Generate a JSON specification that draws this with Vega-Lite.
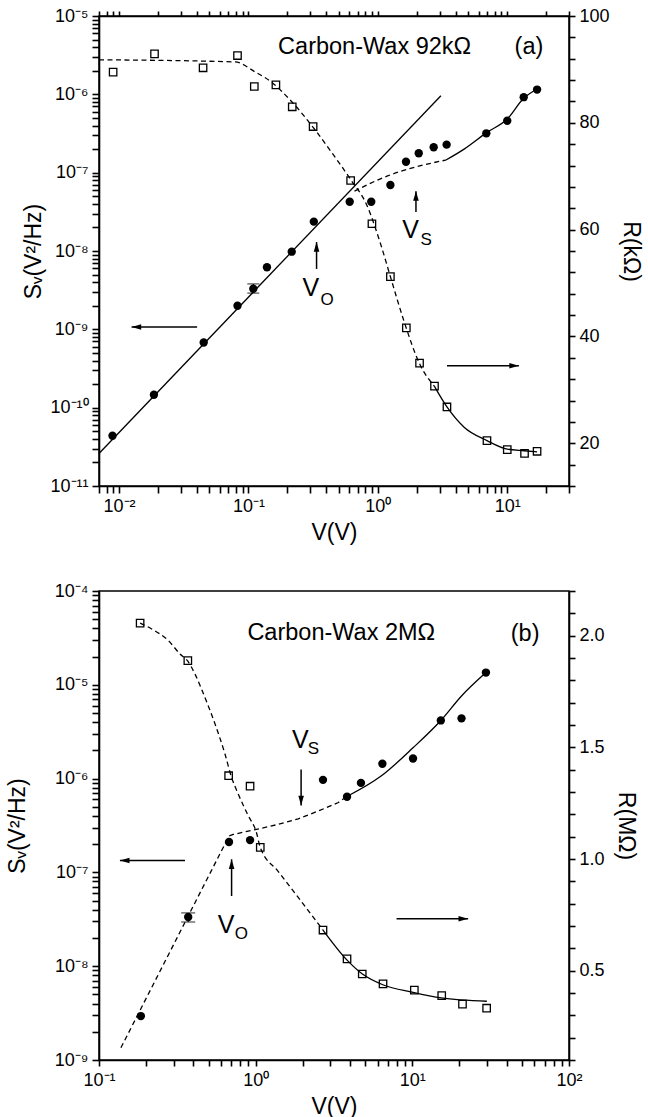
{
  "$schema": "https://vega.github.io/schema/vega-lite/v6.json",
  "background": "white",
  "padding": {"left": 5, "top": 6, "right": 5, "bottom": 5},
  "spacing": 36,
  "columns": 1,
  "align": "none",
  "config": {
    "font": "Liberation Sans",
    "view": {"stroke": "black", "strokeWidth": 1.5},
    "axis": {"domainColor": "black", "domainWidth": 1.6, "labelColor": "black", "titleColor": "black", "labelFont": "Liberation Sans", "titleFont": "Liberation Sans", "labelFontSize": 18, "titleFontSize": 23, "titleFontWeight": "normal", "grid": false, "labelOverlap": false, "labelFlush": false},
    "text": {"font": "Liberation Sans", "color": "black"}
  },
  "datasets": {
    "aS": [
      {"V": 0.0089, "S": 4.38e-11}, {"V": 0.0186, "S": 1.46e-10}, {"V": 0.0451, "S": 6.8e-10}, {"V": 0.0823, "S": 2.0e-9},
      {"V": 0.109, "S": 3.3e-9}, {"V": 0.139, "S": 6.2e-9}, {"V": 0.216, "S": 9.8e-9}, {"V": 0.32, "S": 2.37e-8},
      {"V": 0.606, "S": 4.26e-8}, {"V": 0.889, "S": 4.26e-8}, {"V": 1.25, "S": 6.95e-8}, {"V": 1.65, "S": 1.38e-7},
      {"V": 2.07, "S": 1.77e-7}, {"V": 2.7, "S": 2.11e-7}, {"V": 3.4, "S": 2.28e-7}, {"V": 6.89, "S": 3.18e-7},
      {"V": 10.0, "S": 4.6e-7}, {"V": 13.4, "S": 9.2e-7}, {"V": 17.0, "S": 1.15e-6}
    ],
    "aR": [
      {"V": 0.009, "R": 89.5}, {"V": 0.0188, "R": 92.9}, {"V": 0.0446, "R": 90.3}, {"V": 0.0823, "R": 92.6},
      {"V": 0.111, "R": 86.8}, {"V": 0.163, "R": 87.1}, {"V": 0.218, "R": 83.0}, {"V": 0.316, "R": 79.3},
      {"V": 0.616, "R": 69.2}, {"V": 0.9, "R": 61.1}, {"V": 1.25, "R": 51.2}, {"V": 1.66, "R": 41.6},
      {"V": 2.1, "R": 35.0}, {"V": 2.74, "R": 30.7}, {"V": 3.42, "R": 26.8}, {"V": 6.97, "R": 20.5},
      {"V": 10.0, "R": 18.8}, {"V": 13.6, "R": 18.1}, {"V": 17.0, "R": 18.5}
    ],
    "aL": [
      {"V": 0.007, "S": 2.6e-11, "seg": "pl"}, {"V": 3.07, "S": 9.6e-7, "seg": "pl"},
      {"V": 0.66, "S": 5.8e-8, "seg": "dash"}, {"V": 1.19, "S": 9.1e-8, "seg": "dash"}, {"V": 1.92, "S": 1.17e-7, "seg": "dash"}, {"V": 3.36, "S": 1.45e-7, "seg": "dash"},
      {"V": 3.36, "S": 1.45e-7, "seg": "solid"}, {"V": 4.64, "S": 2.0e-7, "seg": "solid"}, {"V": 6.97, "S": 3.27e-7, "seg": "solid"},
      {"V": 10.0, "S": 4.84e-7, "seg": "solid"}, {"V": 13.4, "S": 8.9e-7, "seg": "solid"}, {"V": 17.0, "S": 1.17e-6, "seg": "solid"}
    ],
    "aRL": [
      {"V": 0.007, "R": 91.8, "seg": "dash"}, {"V": 0.079, "R": 91.4, "seg": "dash"}, {"V": 0.113, "R": 89.5, "seg": "dash"},
      {"V": 0.151, "R": 87.6, "seg": "dash"}, {"V": 0.217, "R": 83.9, "seg": "dash"}, {"V": 0.315, "R": 79.2, "seg": "dash"},
      {"V": 0.438, "R": 74.5, "seg": "dash"}, {"V": 0.624, "R": 69.2, "seg": "dash"}, {"V": 0.814, "R": 64.8, "seg": "dash"},
      {"V": 1.06, "R": 57.0, "seg": "dash"}, {"V": 1.25, "R": 51.2, "seg": "dash"}, {"V": 1.6, "R": 42.7, "seg": "dash"},
      {"V": 2.09, "R": 35.0, "seg": "dash"}, {"V": 2.73, "R": 30.7, "seg": "dash"},
      {"V": 2.73, "R": 30.7, "seg": "solid"}, {"V": 3.42, "R": 26.8, "seg": "solid"}, {"V": 4.64, "R": 23.0, "seg": "solid"},
      {"V": 6.97, "R": 20.5, "seg": "solid"}, {"V": 10.0, "R": 18.9, "seg": "solid"}, {"V": 13.5, "R": 18.6, "seg": "solid"}, {"V": 17.0, "R": 18.4, "seg": "solid"}
    ],
    "aE": [{"V": 0.109, "S": 2.9e-9, "S2": 3.8e-9}],
    "aA": [
      {"V": 0.336, "S": 1.3e-8, "V2": 0.336, "S2": 5.9e-9, "dir": "up"},
      {"V": 1.97, "S": 5.8e-8, "V2": 1.97, "S2": 3.15e-8, "dir": "up"},
      {"V": 0.0125, "S": 1.07e-9, "V2": 0.0401, "S2": 1.07e-9, "dir": "left"},
      {"V": 12.3, "S": 3.43e-10, "V2": 3.42, "S2": 3.43e-10, "dir": "right"}
    ],
    "aT": [
      {"V": 0.944, "S": 4.0e-6, "t": "Carbon-Wax 92kΩ", "k": "title"},
      {"V": 14.7, "S": 4.0e-6, "t": "(a)", "k": "title"},
      {"V": 0.303, "S": 3.37e-9, "t": "V", "k": "big"},
      {"V": 0.405, "S": 2.37e-9, "t": "O", "k": "sub"},
      {"V": 1.79, "S": 1.83e-8, "t": "V", "k": "big"},
      {"V": 2.36, "S": 1.4e-8, "t": "S", "k": "sub"}
    ],
    "bS": [
      {"V": 0.185, "S": 2.94e-9}, {"V": 0.371, "S": 3.35e-8}, {"V": 0.676, "S": 2.11e-7}, {"V": 0.921, "S": 2.21e-7},
      {"V": 2.69, "S": 9.7e-7}, {"V": 3.83, "S": 6.4e-7}, {"V": 4.7, "S": 9.0e-7}, {"V": 6.44, "S": 1.44e-6},
      {"V": 10.1, "S": 1.64e-6}, {"V": 15.2, "S": 4.17e-6}, {"V": 20.6, "S": 4.39e-6}, {"V": 29.5, "S": 1.35e-5}
    ],
    "bR": [
      {"V": 0.183, "R": 2.056}, {"V": 0.369, "R": 1.888}, {"V": 0.672, "R": 1.373}, {"V": 0.921, "R": 1.326},
      {"V": 1.07, "R": 1.052}, {"V": 2.69, "R": 0.682}, {"V": 3.83, "R": 0.553}, {"V": 4.79, "R": 0.485},
      {"V": 6.5, "R": 0.441}, {"V": 10.3, "R": 0.413}, {"V": 15.4, "R": 0.388}, {"V": 20.9, "R": 0.35}, {"V": 29.8, "R": 0.332}
    ],
    "bL": [
      {"V": 0.138, "S": 1.35e-9, "seg": "dash"}, {"V": 0.676, "S": 2.44e-7, "seg": "dash"}, {"V": 0.719, "S": 2.54e-7, "seg": "dash"},
      {"V": 1.01, "S": 2.87e-7, "seg": "dash"}, {"V": 1.39, "S": 3.25e-7, "seg": "dash"}, {"V": 1.87, "S": 3.73e-7, "seg": "dash"},
      {"V": 2.51, "S": 4.51e-7, "seg": "dash"}, {"V": 3.37, "S": 5.56e-7, "seg": "dash"}, {"V": 3.8, "S": 6.41e-7, "seg": "dash"},
      {"V": 3.8, "S": 6.41e-7, "seg": "solid"}, {"V": 6.35, "S": 1.07e-6, "seg": "solid"}, {"V": 10.1, "S": 2.13e-6, "seg": "solid"},
      {"V": 15.2, "S": 4.16e-6, "seg": "solid"}, {"V": 20.6, "S": 7.6e-6, "seg": "solid"}, {"V": 29.5, "S": 1.35e-5, "seg": "solid"}
    ],
    "bRL": [
      {"V": 0.183, "R": 2.056, "seg": "dash"}, {"V": 0.217, "R": 2.03, "seg": "dash"}, {"V": 0.277, "R": 1.978, "seg": "dash"},
      {"V": 0.329, "R": 1.918, "seg": "dash"}, {"V": 0.367, "R": 1.888, "seg": "dash"}, {"V": 0.41, "R": 1.828, "seg": "dash"},
      {"V": 0.474, "R": 1.724, "seg": "dash"}, {"V": 0.55, "R": 1.605, "seg": "dash"}, {"V": 0.637, "R": 1.47, "seg": "dash"},
      {"V": 0.701, "R": 1.366, "seg": "dash"}, {"V": 0.774, "R": 1.291, "seg": "dash"}, {"V": 0.898, "R": 1.193, "seg": "dash"},
      {"V": 1.01, "R": 1.12, "seg": "dash"}, {"V": 1.07, "R": 1.052, "seg": "dash"}, {"V": 1.39, "R": 0.945, "seg": "dash"},
      {"V": 1.87, "R": 0.828, "seg": "dash"}, {"V": 2.69, "R": 0.682, "seg": "dash"},
      {"V": 2.69, "R": 0.682, "seg": "solid"}, {"V": 3.86, "R": 0.545, "seg": "solid"}, {"V": 4.8, "R": 0.485, "seg": "solid"},
      {"V": 6.48, "R": 0.437, "seg": "solid"}, {"V": 10.1, "R": 0.403, "seg": "solid"}, {"V": 15.3, "R": 0.378, "seg": "solid"}, {"V": 29.9, "R": 0.363, "seg": "solid"}
    ],
    "bE": [{"V": 0.371, "S": 2.96e-8, "S2": 3.7e-8}],
    "bA": [
      {"V": 1.95, "S": 5.18e-7, "V2": 1.95, "S2": 1.25e-6, "dir": "down"},
      {"V": 0.702, "S": 1.38e-7, "V2": 0.702, "S2": 5.6e-8, "dir": "up"},
      {"V": 0.136, "S": 1.34e-7, "V2": 0.354, "S2": 1.34e-7, "dir": "left"},
      {"V": 22.7, "S": 3.2e-8, "V2": 7.93, "S2": 3.2e-8, "dir": "right"}
    ],
    "bT": [
      {"V": 3.52, "S": 3.59e-5, "t": "Carbon-Wax 2MΩ", "k": "title"},
      {"V": 52.5, "S": 3.51e-5, "t": "(b)", "k": "title"},
      {"V": 1.93, "S": 2.6e-6, "t": "V", "k": "big"},
      {"V": 2.34, "S": 2.05e-6, "t": "S", "k": "sub"},
      {"V": 0.648, "S": 2.77e-8, "t": "V", "k": "big"},
      {"V": 0.81, "S": 2.19e-8, "t": "O", "k": "sub"}
    ]
  },
  "concat": [
    {
      "width": 470,
      "height": 470,
      "layer": [
        {
          "encoding": {
            "x": {"field": "V", "type": "quantitative", "scale": {"type": "log", "domain": [0.007, 30]},
              "axis": {"orient": "bottom", "title": "V(V)", "tickCount": 40, "titlePadding": 6, "labelPadding": 4, "tickColor": "black", "tickWidth": 1.6, "tickSize": 7,
                "labelExpr": "abs(log(datum.value)/LN10 - round(log(datum.value)/LN10)) > 0.01 ? '' : ['10⁻¹¹','10⁻¹⁰','10⁻⁹','10⁻⁸','10⁻⁷','10⁻⁶','10⁻⁵','10⁻⁴','10⁻³','10⁻²','10⁻¹','10⁰','10¹','10²'][round(log(datum.value)/LN10) + 11]"}},
            "y": {"field": "S", "type": "quantitative", "scale": {"type": "log", "domain": [1e-11, 1e-5]},
              "axis": {"orient": "left", "title": "Sᵥ(V²/Hz)", "tickCount": 60, "titlePadding": 4, "labelPadding": 4, "tickColor": "black", "tickWidth": 1.6, "tickSize": 7,
                "labelExpr": "abs(log(datum.value)/LN10 - round(log(datum.value)/LN10)) > 0.01 ? '' : ['10⁻¹¹','10⁻¹⁰','10⁻⁹','10⁻⁸','10⁻⁷','10⁻⁶','10⁻⁵','10⁻⁴','10⁻³','10⁻²','10⁻¹','10⁰','10¹','10²'][round(log(datum.value)/LN10) + 11]"}}
          },
          "layer": [
            {"data": {"name": "aL"}, "transform": [{"filter": "datum.seg == 'pl'"}], "mark": {"type": "line", "color": "black", "strokeWidth": 1.3}},
            {"data": {"name": "aL"}, "transform": [{"filter": "datum.seg == 'dash'"}], "mark": {"type": "line", "color": "black", "strokeWidth": 1.3, "strokeDash": [5, 3.5], "interpolate": "monotone"}},
            {"data": {"name": "aL"}, "transform": [{"filter": "datum.seg == 'solid'"}], "mark": {"type": "line", "color": "black", "strokeWidth": 1.3, "interpolate": "monotone"}},
            {"data": {"name": "aS"}, "mark": {"type": "point", "shape": "circle", "filled": true, "color": "black", "size": 70, "opacity": 1}},
            {"data": {"name": "aE"}, "mark": {"type": "errorbar", "color": "black", "thickness": 1.2, "ticks": {"size": 12, "thickness": 1.2, "color": "black"}}, "encoding": {"y2": {"field": "S2"}}},
            {"data": {"name": "aA"}, "mark": {"type": "rule", "color": "black", "strokeWidth": 1.5}, "encoding": {"x2": {"field": "V2"}, "y2": {"field": "S2"}}},
            {"data": {"name": "aA"}, "mark": {"type": "point", "filled": true, "color": "black", "size": 64, "opacity": 1},
              "encoding": {"shape": {"field": "dir", "type": "nominal", "legend": null, "scale": {"domain": ["up", "down", "left", "right"], "range": ["M0,0L0.7,2.4L-0.7,2.4Z", "M0,0L0.7,-2.4L-0.7,-2.4Z", "M0,0L2.4,0.7L2.4,-0.7Z", "M0,0L-2.4,0.7L-2.4,-0.7Z"]}}}},
            {"data": {"name": "aT"}, "transform": [{"filter": "datum.k == 'title'"}], "mark": {"type": "text", "fontSize": 23.5, "align": "center", "baseline": "middle"}, "encoding": {"text": {"field": "t"}}},
            {"data": {"name": "aT"}, "transform": [{"filter": "datum.k == 'big'"}], "mark": {"type": "text", "fontSize": 25, "align": "center", "baseline": "middle"}, "encoding": {"text": {"field": "t"}}},
            {"data": {"name": "aT"}, "transform": [{"filter": "datum.k == 'sub'"}], "mark": {"type": "text", "fontSize": 17, "align": "center", "baseline": "middle"}, "encoding": {"text": {"field": "t"}}}
          ]
        },
        {
          "encoding": {
            "x": {"field": "V", "type": "quantitative", "scale": {"type": "log", "domain": [0.007, 30]},
              "axis": {"orient": "top", "labels": false, "title": null, "tickCount": 40, "tickColor": "black", "tickWidth": 1.6, "tickSize": 5}},
            "y": {"field": "R", "type": "quantitative", "scale": {"type": "linear", "domain": [12, 100], "nice": false, "zero": false},
              "axis": {"orient": "right", "title": "R(kΩ)", "values": [12, 16, 20, 24, 28, 32, 36, 40, 44, 48, 52, 56, 60, 64, 68, 72, 76, 80, 84, 88, 92, 96, 100],
                "labelExpr": "datum.value % 20 == 0 ? datum.label : ''", "tickSize": 6, "tickColor": "black", "tickWidth": 1.6, "labelPadding": 4, "titlePadding": 9}}
          },
          "layer": [
            {"data": {"name": "aRL"}, "transform": [{"filter": "datum.seg == 'dash'"}], "mark": {"type": "line", "color": "black", "strokeWidth": 1.3, "strokeDash": [5, 3.5], "interpolate": "monotone"}},
            {"data": {"name": "aRL"}, "transform": [{"filter": "datum.seg == 'solid'"}], "mark": {"type": "line", "color": "black", "strokeWidth": 1.3, "interpolate": "monotone"}},
            {"data": {"name": "aR"}, "mark": {"type": "point", "shape": "square", "filled": false, "color": "black", "size": 55, "strokeWidth": 1.3, "opacity": 1}}
          ]
        }
      ],
      "resolve": {"scale": {"y": "independent"}, "axis": {"x": "independent"}}
    },
    {
      "width": 470,
      "height": 469,
      "layer": [
        {
          "encoding": {
            "x": {"field": "V", "type": "quantitative", "scale": {"type": "log", "domain": [0.1, 100]},
              "axis": {"orient": "bottom", "title": "V(V)", "tickCount": 40, "titlePadding": 6, "labelPadding": 5, "tickColor": "black", "tickWidth": 1.6, "tickSize": 6,
                "labelExpr": "abs(log(datum.value)/LN10 - round(log(datum.value)/LN10)) > 0.01 ? '' : ['10⁻¹¹','10⁻¹⁰','10⁻⁹','10⁻⁸','10⁻⁷','10⁻⁶','10⁻⁵','10⁻⁴','10⁻³','10⁻²','10⁻¹','10⁰','10¹','10²'][round(log(datum.value)/LN10) + 11]"}},
            "y": {"field": "S", "type": "quantitative", "scale": {"type": "log", "domain": [1e-9, 1e-4]},
              "axis": {"orient": "left", "title": "Sᵥ(V²/Hz)", "tickCount": 50, "titlePadding": 25, "labelPadding": 4, "tickColor": "black", "tickWidth": 1.6, "tickSize": 7,
                "labelExpr": "abs(log(datum.value)/LN10 - round(log(datum.value)/LN10)) > 0.01 ? '' : ['10⁻¹¹','10⁻¹⁰','10⁻⁹','10⁻⁸','10⁻⁷','10⁻⁶','10⁻⁵','10⁻⁴','10⁻³','10⁻²','10⁻¹','10⁰','10¹','10²'][round(log(datum.value)/LN10) + 11]"}}
          },
          "layer": [
            {"data": {"name": "bL"}, "transform": [{"filter": "datum.seg == 'dash'"}], "mark": {"type": "line", "color": "black", "strokeWidth": 1.3, "strokeDash": [5, 3.5]}},
            {"data": {"name": "bL"}, "transform": [{"filter": "datum.seg == 'solid'"}], "mark": {"type": "line", "color": "black", "strokeWidth": 1.3, "interpolate": "monotone"}},
            {"data": {"name": "bS"}, "mark": {"type": "point", "shape": "circle", "filled": true, "color": "black", "size": 70, "opacity": 1}},
            {"data": {"name": "bE"}, "mark": {"type": "errorbar", "color": "black", "thickness": 1.2, "ticks": {"size": 14, "thickness": 1.2, "color": "black"}}, "encoding": {"y2": {"field": "S2"}}},
            {"data": {"name": "bA"}, "mark": {"type": "rule", "color": "black", "strokeWidth": 1.5}, "encoding": {"x2": {"field": "V2"}, "y2": {"field": "S2"}}},
            {"data": {"name": "bA"}, "mark": {"type": "point", "filled": true, "color": "black", "size": 64, "opacity": 1},
              "encoding": {"shape": {"field": "dir", "type": "nominal", "legend": null, "scale": {"domain": ["up", "down", "left", "right"], "range": ["M0,0L0.7,2.4L-0.7,2.4Z", "M0,0L0.7,-2.4L-0.7,-2.4Z", "M0,0L2.4,0.7L2.4,-0.7Z", "M0,0L-2.4,0.7L-2.4,-0.7Z"]}}}},
            {"data": {"name": "bT"}, "transform": [{"filter": "datum.k == 'title'"}], "mark": {"type": "text", "fontSize": 23.5, "align": "center", "baseline": "middle"}, "encoding": {"text": {"field": "t"}}},
            {"data": {"name": "bT"}, "transform": [{"filter": "datum.k == 'big'"}], "mark": {"type": "text", "fontSize": 25, "align": "center", "baseline": "middle"}, "encoding": {"text": {"field": "t"}}},
            {"data": {"name": "bT"}, "transform": [{"filter": "datum.k == 'sub'"}], "mark": {"type": "text", "fontSize": 17, "align": "center", "baseline": "middle"}, "encoding": {"text": {"field": "t"}}}
          ]
        },
        {
          "encoding": {
            "x": {"field": "V", "type": "quantitative", "scale": {"type": "log", "domain": [0.1, 100]}},
            "y": {"field": "R", "type": "quantitative", "scale": {"type": "linear", "domain": [0.1, 2.2], "nice": false, "zero": false},
              "axis": {"orient": "right", "title": "R(MΩ)", "values": [0.1, 0.2, 0.3, 0.4, 0.5, 0.6, 0.7, 0.8, 0.9, 1.0, 1.1, 1.2, 1.3, 1.4, 1.5, 1.6, 1.7, 1.8, 1.9, 2.0, 2.1, 2.2],
                "labelExpr": "abs(datum.value*2 - round(datum.value*2)) < 0.001 ? format(datum.value, '.1f') : ''", "tickSize": 6, "tickColor": "black", "tickWidth": 1.6, "labelPadding": 4, "titlePadding": 9}}
          },
          "layer": [
            {"data": {"name": "bRL"}, "transform": [{"filter": "datum.seg == 'dash'"}], "mark": {"type": "line", "color": "black", "strokeWidth": 1.3, "strokeDash": [5, 3.5], "interpolate": "monotone"}},
            {"data": {"name": "bRL"}, "transform": [{"filter": "datum.seg == 'solid'"}], "mark": {"type": "line", "color": "black", "strokeWidth": 1.3, "interpolate": "monotone"}},
            {"data": {"name": "bR"}, "mark": {"type": "point", "shape": "square", "filled": false, "color": "black", "size": 55, "strokeWidth": 1.3, "opacity": 1}}
          ]
        }
      ],
      "resolve": {"scale": {"y": "independent"}}
    }
  ]
}
